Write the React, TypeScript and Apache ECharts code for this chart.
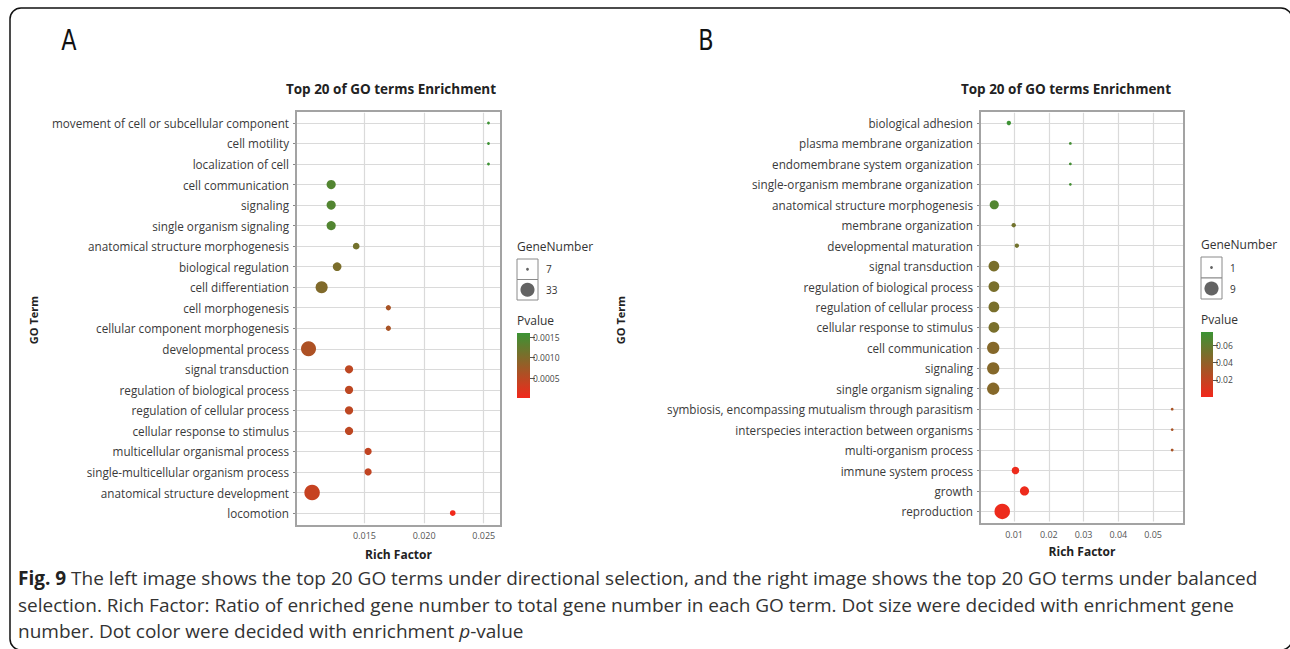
import React, { useEffect, useRef } from 'react';
import * as echarts from 'echarts';

// ---------- Panel A (directional selection) ----------
const termsA = [
  'movement of cell or subcellular component',
  'cell motility',
  'localization of cell',
  'cell communication',
  'signaling',
  'single organism signaling',
  'anatomical structure morphogenesis',
  'biological regulation',
  'cell differentiation',
  'cell morphogenesis',
  'cellular component morphogenesis',
  'developmental process',
  'signal transduction',
  'regulation of biological process',
  'regulation of cellular process',
  'cellular response to stimulus',
  'multicellular organismal process',
  'single-multicellular organism process',
  'anatomical structure development',
  'locomotion',
];
const richA = [0.0254, 0.0254, 0.0254, 0.0122, 0.0122, 0.0122, 0.0143, 0.0127, 0.0114, 0.0170, 0.0170, 0.0103, 0.0137, 0.0137, 0.0137, 0.0137, 0.0153, 0.0153, 0.0106, 0.0224];
const genesA = [7, 7, 7, 20, 20, 20, 15, 19, 26, 12, 12, 32, 18, 18, 18, 18, 16, 16, 33, 13];
const pA = [0.00158, 0.00158, 0.00158, 0.0014, 0.0014, 0.0014, 0.00112, 0.00105, 0.001, 0.00066, 0.00066, 0.00062, 0.00048, 0.00048, 0.00048, 0.00048, 0.00044, 0.00044, 0.0004, 0.00003];
const xTicksA = [0.015, 0.02, 0.025];
const pTicksA = [0.0005, 0.001, 0.0015];
const geneLegendA = [7, 33];

// ---------- Panel B (balanced selection) ----------
const termsB = [
  'biological adhesion',
  'plasma membrane organization',
  'endomembrane system organization',
  'single-organism membrane organization',
  'anatomical structure morphogenesis',
  'membrane organization',
  'developmental maturation',
  'signal transduction',
  'regulation of biological process',
  'regulation of cellular process',
  'cellular response to stimulus',
  'cell communication',
  'signaling',
  'single organism signaling',
  'symbiosis, encompassing mutualism through parasitism',
  'interspecies interaction between organisms',
  'multi-organism process',
  'immune system process',
  'growth',
  'reproduction',
];
const richB = [0.0085, 0.0262, 0.0262, 0.0262, 0.0043, 0.0099, 0.0108, 0.0042, 0.0042, 0.0042, 0.0042, 0.0040, 0.0040, 0.0040, 0.0555, 0.0555, 0.0555, 0.0104, 0.0130, 0.0066];
const genesB = [2, 1, 1, 1, 5, 2, 2, 6, 6, 6, 6, 7, 7, 7, 1, 1, 1, 4, 5, 9];
const pB = [0.0745, 0.072, 0.072, 0.072, 0.066, 0.053, 0.053, 0.05, 0.05, 0.05, 0.05, 0.045, 0.045, 0.045, 0.03, 0.03, 0.03, 0.002, 0.002, 0.002];
const xTicksB = [0.01, 0.02, 0.03, 0.04, 0.05];
const pTicksB = [0.02, 0.04, 0.06];
const geneLegendB = [1, 9];

const captionLines = [
  '{b|Fig. 9} The left image shows the top 20 GO terms under directional selection, and the right image shows the top 20 GO terms under balanced',
  'selection. Rich Factor: Ratio of enriched gene number to total gene number in each GO term. Dot size were decided with enrichment gene',
  'number. Dot color were decided with enrichment {i|p}-value',
];

const FONT = '"Open Sans", "Noto Sans", sans-serif';
const RED = '#f2281b';
const GREEN = '#3b9334';
const SMIN = 2.8;
const SMAX = 15.5;

function sizeFn(lo: number, hi: number) {
  return (n: number) => SMIN + ((n - lo) / (hi - lo)) * (SMAX - SMIN);
}

type Box = { left: number; top: number; width: number; height: number };
type Panel = {
  terms: string[];
  rich: number[];
  genes: number[];
  p: number[];
  xTicks: number[];
  xMin: number;
  xMax: number;
  xDigits: number;
  pTicks: number[];
  pMin: number;
  pMax: number;
  pDigits: number;
  geneLegend: number[];
  frame: Box;
  grid: Box;
  cbar: Box;
  letter: string;
  letterX: number;
  titleX: number;
  goX: number;
  legX: number;
  nameGap: number;
  box: { x: number; y: number; w: number; h: number };
};

const panels: Panel[] = [
  {
    terms: termsA, rich: richA, genes: genesA, p: pA,
    xTicks: xTicksA, xMin: 0.00925, xMax: 0.02645, xDigits: 3,
    pTicks: pTicksA, pMin: 0.00002, pMax: 0.0016, pDigits: 4,
    geneLegend: geneLegendA,
    frame: { left: 296, top: 111, width: 205, height: 415 },
    grid: { left: 296, top: 112.7, width: 205, height: 410.6 },
    cbar: { left: 517, top: 333, width: 13, height: 65 },
    letter: 'A', letterX: 69, titleX: 391, goX: 33, legX: 517, nameGap: 25,
    box: { x: 517, y: 259, w: 21, h: 41 },
  },
  {
    terms: termsB, rich: richB, genes: genesB, p: pB,
    xTicks: xTicksB, xMin: 0.0002, xMax: 0.0589, xDigits: 2,
    pTicks: pTicksB, pMin: 0, pMax: 0.0755, pDigits: 2,
    geneLegend: geneLegendB,
    frame: { left: 980, top: 111, width: 204, height: 413 },
    grid: { left: 980, top: 112.8, width: 204, height: 408.8 },
    cbar: { left: 1201, top: 332, width: 12, height: 65 },
    letter: 'B', letterX: 706, titleX: 1066, goX: 620, legX: 1201, nameGap: 24,
    box: { x: 1201, y: 257, w: 21, h: 42 },
  },
];

function buildOption() {
  const grid: any[] = [];
  const xAxis: any[] = [];
  const yAxis: any[] = [];
  const series: any[] = [];
  const visualMap: any[] = [];
  const graphic: any[] = [];

  panels.forEach((P, k) => {
    const size = sizeFn(P.geneLegend[0], P.geneLegend[1]);
    const gi = k * 2;
    grid.push({ ...P.grid, show: false, containLabel: false });
    grid.push({ ...P.cbar, show: false, containLabel: false });

    // plot frame
    graphic.push({
      type: 'rect', z: 10,
      shape: { x: P.frame.left, y: P.frame.top, width: P.frame.width, height: P.frame.height },
      style: { fill: 'none', stroke: '#a3a3a3', lineWidth: 2 },
    });

    xAxis.push({
      type: 'value', gridIndex: gi, min: P.xMin, max: P.xMax,
      axisLine: { show: false },
      axisTick: { show: false, customValues: P.xTicks },
      axisLabel: {
        customValues: P.xTicks, fontSize: 9, color: '#555', margin: 8, fontFamily: FONT,
        formatter: (v: number) => v.toFixed(P.xDigits),
      },
      splitLine: { show: true, lineStyle: { color: '#dadada', width: 1.2 } },
      name: 'Rich Factor', nameLocation: 'middle', nameGap: P.nameGap,
      nameTextStyle: { fontSize: 12, fontWeight: 'bold', color: '#222', fontFamily: FONT },
    });
    xAxis.push({ type: 'category', gridIndex: gi + 1, data: [''], show: false });

    yAxis.push({
      type: 'category', gridIndex: gi, data: P.terms, inverse: true,
      axisLine: { show: false },
      axisTick: { show: true, alignWithLabel: true, length: 3, interval: 0, lineStyle: { color: '#888' } },
      axisLabel: { fontSize: 11.7, color: '#3a3a3a', margin: 7, interval: 0, fontFamily: FONT },
      splitLine: { show: true, alignWithLabel: true, interval: 0, lineStyle: { color: '#dadada', width: 1.2 } },
    });
    yAxis.push({
      type: 'value', gridIndex: gi + 1, min: P.pMin, max: P.pMax, position: 'right',
      axisLine: { show: false },
      axisTick: { show: true, length: 5, inside: false, customValues: P.pTicks, lineStyle: { color: '#555' } },
      axisLabel: {
        customValues: P.pTicks, fontSize: 8.5, color: '#444', margin: 3, fontFamily: FONT,
        formatter: (v: number) => v.toFixed(P.pDigits),
      },
      splitLine: { show: false },
    });

    const data = P.terms.map((t, i) => [P.rich[i], t, P.genes[i], P.p[i]]);
    series.push({
      type: 'scatter', xAxisIndex: gi, yAxisIndex: gi, data,
      symbolSize: (v: any[]) => size(v[2]),
      itemStyle: { opacity: 1 },
      encode: { x: 0, y: 1 },
    });
    visualMap.push({
      type: 'continuous', show: false, seriesIndex: k, dimension: 3,
      min: P.pMin, max: P.pMax, inRange: { color: [RED, GREEN] },
    });

    // letter
    graphic.push({
      type: 'text', x: P.letterX, y: 40, scaleX: 0.8,
      style: { text: P.letter, font: `28px "DejaVu Sans", sans-serif`, fill: '#111', textAlign: 'center', textVerticalAlign: 'middle' },
    });
    // title
    graphic.push({
      type: 'text', x: P.titleX, y: 89,
      style: { text: 'Top 20 of GO terms Enrichment', font: `bold 13.5px ${FONT}`, fill: '#222', textAlign: 'center', textVerticalAlign: 'middle' },
    });
    // GO Term
    graphic.push({
      type: 'text', x: P.goX, y: 320, rotation: Math.PI / 2,
      style: { text: 'GO Term', font: `bold 11px ${FONT}`, fill: '#222', textAlign: 'center', textVerticalAlign: 'middle' },
    });
    // gene legend
    graphic.push({
      type: 'text', x: P.legX, y: P.box.y - 13,
      style: { text: 'GeneNumber', font: `12px ${FONT}`, fill: '#333', textAlign: 'left', textVerticalAlign: 'middle' },
    });
    const half = P.box.h / 2;
    P.geneLegend.forEach((g, j) => {
      const cy = P.box.y + half * j + half / 2;
      graphic.push({
        type: 'rect', shape: { x: P.box.x, y: P.box.y + half * j, width: P.box.w, height: half },
        style: { fill: '#fff', stroke: '#8a8a8a', lineWidth: 1 },
      });
      graphic.push({
        type: 'circle', shape: { cx: P.box.x + P.box.w / 2, cy, r: size(g) / 2 - (j ? 0.7 : 0) },
        style: { fill: '#636363' },
      });
      graphic.push({
        type: 'text', x: P.box.x + P.box.w + 8, y: cy,
        style: { text: String(g), font: `10px ${FONT}`, fill: '#333', textAlign: 'left', textVerticalAlign: 'middle' },
      });
    });
    // Pvalue legend
    graphic.push({
      type: 'text', x: P.legX, y: P.cbar.top - 13,
      style: { text: 'Pvalue', font: `12px ${FONT}`, fill: '#333', textAlign: 'left', textVerticalAlign: 'middle' },
    });
    graphic.push({
      type: 'rect', shape: { x: P.cbar.left, y: P.cbar.top, width: P.cbar.width, height: P.cbar.height },
      style: {
        fill: new echarts.graphic.LinearGradient(0, 0, 0, 1, [
          { offset: 0, color: GREEN },
          { offset: 1, color: RED },
        ]),
      },
    });
  });

  // frame
  graphic.push({
    type: 'rect', z: -10, shape: { x: 10, y: 8, width: 1282, height: 642, r: 11 },
    style: { fill: 'none', stroke: '#111', lineWidth: 1.5 },
  });
  // caption
  captionLines.forEach((line, i) => {
    graphic.push({
      type: 'text', x: 18, y: 578 + i * 26.5,
      style: {
        text: line, font: `19px ${FONT}`, fill: '#333', textAlign: 'left', textVerticalAlign: 'middle',
        rich: {
          b: { fontSize: 19, fontWeight: 'bold', fontFamily: FONT, fill: '#222' },
          i: { fontSize: 19, fontStyle: 'italic', fontFamily: FONT, fill: '#333' },
        },
      },
    });
  });

  return {
    animation: false,
    backgroundColor: '#fff',
    grid, xAxis, yAxis, series, visualMap, graphic,
  };
}

export default function App() {
  const ref = useRef<HTMLDivElement>(null);
  useEffect(() => {
    const chart = echarts.init(ref.current!, null, { renderer: 'svg' });
    chart.setOption(buildOption() as any);
    return () => chart.dispose();
  }, []);
  return (
    <div
      ref={ref}
      style={{ position: 'fixed', left: 0, top: 0, width: 1290, height: 649, background: '#fff' }}
    />
  );
}
